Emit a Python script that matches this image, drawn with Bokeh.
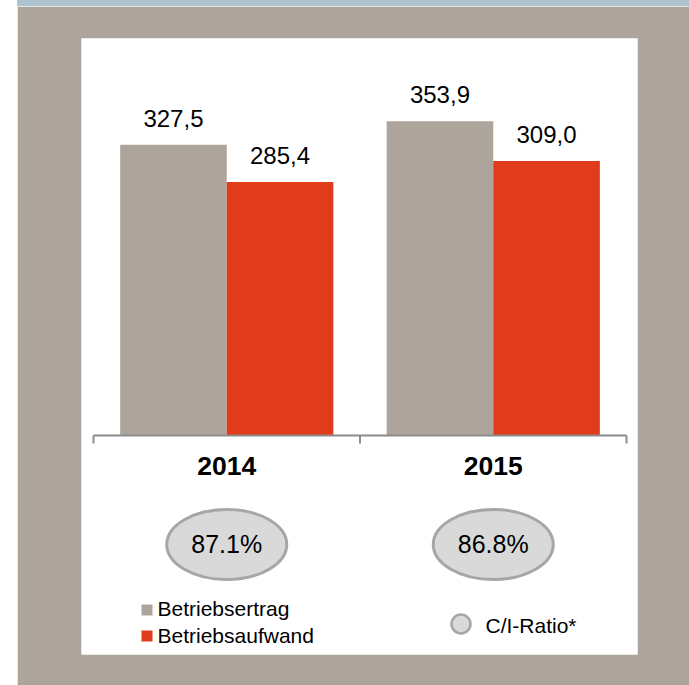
from bokeh.plotting import figure
from bokeh.models import Range1d, ColumnDataSource, Spacer
from bokeh.layouts import row, column
from bokeh.embed import file_html
from bokeh.resources import INLINE
from bokeh.core.properties import value

# ---------------- data ----------------
years = ["2014", "2015"]
betriebsertrag = [327.5, 353.9]
betriebsaufwand = [285.4, 309.0]
ci_ratio = [87.1, 86.8]
series_names = ["Betriebsertrag", "Betriebsaufwand"]
ci_name = "C/I-Ratio*"

# ---------------- styles ----------------
TAUPE = "#ada59b"
RED = "#e03b1b"
BLUE = "#aec3d0"
ELL_FILL = "#d9d9d9"
ELL_LINE = "#a6a6a6"
AXIS = "#8c8c8c"
FONT = value("Liberation Sans")

FRAME_W, FRAME_H = 556, 616
px_per_cat = 266.5
px_per_unit = 0.888
x0_px, y0_px = 12, 397   # frame position of x=0 / y=0

x_start = -x0_px / px_per_cat
x_end = (FRAME_W - x0_px) / px_per_cat
y_end = y0_px / px_per_unit
y_start = -(FRAME_H - y0_px) / px_per_unit

p = figure(width=672, height=679, output_backend="svg", toolbar_location=None,
           x_range=Range1d(x_start, x_end), y_range=Range1d(y_start, y_end),
           min_border_left=64, min_border_right=52, min_border_top=32, min_border_bottom=31,
           border_fill_color=TAUPE, background_fill_color="white", outline_line_color=None)
p.xaxis.visible = False
p.yaxis.visible = False
p.grid.visible = False
p.extra_x_ranges = {"px": Range1d(0, FRAME_W)}
p.extra_y_ranges = {"px": Range1d(FRAME_H, 0)}

centers = [i + 0.5 for i in range(len(years))]
bw = 0.4
src = ColumnDataSource(dict(
    xg=[c - bw / 2 for c in centers], xr=[c + bw / 2 for c in centers],
    g=betriebsertrag, r=betriebsaufwand,
    gl=[f"{v:.1f}".replace(".", ",") for v in betriebsertrag],
    rl=[f"{v:.1f}".replace(".", ",") for v in betriebsaufwand],
    xc=centers, yr=years, ci=[f"{v:.1f}%" for v in ci_ratio],
))

p.vbar(x="xg", top="g", bottom=0, width=bw, source=src, fill_color=TAUPE, line_color=None)
p.vbar(x="xr", top="r", bottom=0, width=bw, source=src, fill_color=RED, line_color=None)

p.text(x="xg", y="g", text="gl", source=src, y_offset=-26.5, text_align="center",
       text_baseline="middle", text_font=FONT, text_font_size="24px", text_color="black")
p.text(x="xr", y="r", text="rl", source=src, y_offset=-26.5, text_align="center",
       text_baseline="middle", text_font=FONT, text_font_size="24px", text_color="black")

# category axis
n = len(years)
p.line(x=[0, n], y=[0, 0], line_color=AXIS, line_width=2)
tick_len = 8 * (y_end - y_start) / FRAME_H
p.segment(x0=list(range(n + 1)), y0=[0] * (n + 1), x1=list(range(n + 1)),
          y1=[-tick_len] * (n + 1), line_color=AXIS, line_width=2)

# year labels
p.text(x="xc", y=427.5, text="yr", source=src, y_range_name="px", text_align="center",
       text_baseline="middle", text_font=FONT, text_font_size="26.5px",
       text_font_style="bold", text_color="black")

# C/I ratio ellipses
p.ellipse(x="xc", y=506, width=120, height=70, width_units="screen", height_units="screen",
          source=src, y_range_name="px", fill_color=ELL_FILL, line_color=ELL_LINE, line_width=3)
p.text(x="xc", y=505.5, text="ci", source=src, y_range_name="px", text_align="center",
       text_baseline="middle", text_font=FONT, text_font_size="25px", text_color="black")

# legend
p.scatter(x=[65.5, 65.5], y=[571.5, 597.5], marker="square", size=11,
          fill_color=[TAUPE, RED], line_color=None, x_range_name="px", y_range_name="px")
p.text(x=[76, 76], y=[570, 596.5], text=series_names, x_range_name="px", y_range_name="px",
       text_align="left", text_baseline="middle", text_font=FONT,
       text_font_size="21px", text_color="black")
p.scatter(x=[379.5], y=[585.5], marker="circle", size=19, fill_color=ELL_FILL,
          line_color=ELL_LINE, line_width=2.5, x_range_name="px", y_range_name="px")
p.text(x=[404], y=[586.5], text=[ci_name], x_range_name="px", y_range_name="px",
       text_align="left", text_baseline="middle", text_font=FONT,
       text_font_size="21px", text_color="black")

top_strip = Spacer(width=672, height=6, styles={"background-color": BLUE})
layout = row(Spacer(width=17, height=685), column(top_strip, p))
open("out.html", "w").write(file_html(layout, INLINE))
